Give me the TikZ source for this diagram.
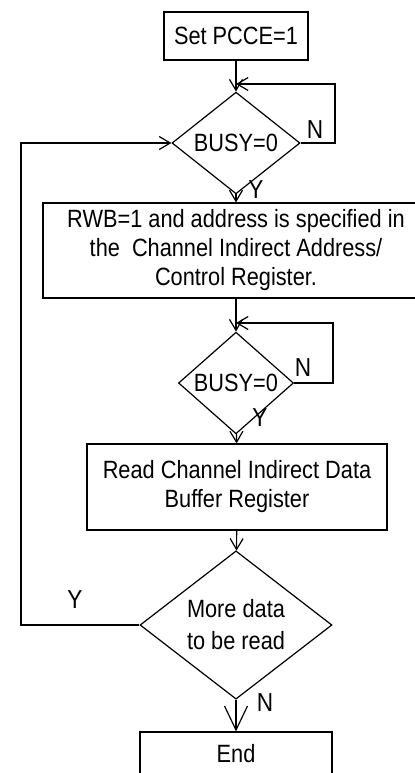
\documentclass[tikz,border=0pt]{standalone}
\usepackage{fontspec}
\setmainfont[FakeStretch=0.87]{Liberation Sans}
\usetikzlibrary{arrows.meta,shapes.geometric}
\tikzset{
  stepbox/.style={draw, line width=0.6pt, align=center, inner sep=2pt, font=\fontsize{12.5}{14.5}\selectfont},
  testnode/.style={draw, diamond, line width=0.6pt, align=center, inner sep=0pt, font=\fontsize{12.5}{16}\selectfont},
  flowlabel/.style={inner sep=0pt, font=\fontsize{13}{13}\selectfont},
  arr/.style={-{Straight Barb[length=5.5pt,width=6.5pt]}, line width=0.6pt},
  bigarr/.style={-{Straight Barb[length=12pt,width=11.5pt]}, line width=0.6pt}
}
\begin{document}
\begin{tikzpicture}[x=0.5pt,y=-0.5pt]
\useasboundingbox (0,0) rectangle (415,773);
% steps
\node[stepbox, minimum width=72pt, minimum height=24pt] (setpcce) at (236,36) {Set PCCE=1};
\node[testnode, minimum width=64pt, minimum height=36pt] (busyA) at (236,143) {BUSY=0};
\node[stepbox, minimum width=193pt, minimum height=47.5pt] (rwb) at (236,250.5) {RWB=1 and address is specified in\\the\ \ Channel Indirect Address/\\Control Register.};
\node[testnode, minimum width=57.5pt, minimum height=36pt] (busyB) at (236,383) {BUSY=0};
\node[stepbox, minimum width=150pt, minimum height=43pt] (readbuf) at (237,487) {Read Channel Indirect Data\\Buffer Register};
\node[testnode, minimum width=96pt, minimum height=58.5pt] (moredata) at (236,625) {More data\\to be read};
\node[stepbox, minimum width=96pt, minimum height=22pt] (finish) at (236,754) {End};
% loop corners
\coordinate (loopA) at (335,84);
\coordinate (joinA) at (236,84);
\coordinate (loopB) at (333,323);
\coordinate (joinB) at (236,323);
\coordinate (backL) at (21,143);
% connectors
\draw[arr] (setpcce) -- (busyA);
\draw[arr] (busyA.east) -| (loopA) -- (joinA);
\draw[arr] (busyA) -- (rwb);
\draw[arr] (rwb) -- (busyB);
\draw[arr] (busyB.east) -| (loopB) -- (joinB);
\draw[arr] (busyB) -- (readbuf);
\draw[arr] (readbuf) -- (moredata);
\draw[arr] (moredata.west) -| (backL) -- (busyA.west);
\draw[bigarr] (moredata) -- (finish);
% labels
\node[flowlabel] (nA) at (315,130) {N};
\node[flowlabel] (yA) at (256,190) {Y};
\node[flowlabel] (nB) at (303,368) {N};
\node[flowlabel] (yB) at (260,418) {Y};
\node[flowlabel] (yC) at (75,600) {Y};
\node[flowlabel] (nC) at (265,703) {N};
\end{tikzpicture}
\end{document}
